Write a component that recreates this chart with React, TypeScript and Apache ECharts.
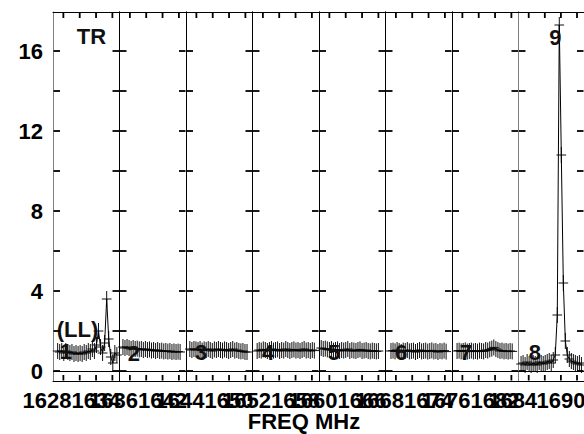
import { useEffect, useRef } from "react";
import * as echarts from "echarts";

// ---- data ----
const panelStart = [1628.73, 1636.73, 1644.73, 1652.73, 1660.73, 1668.73, 1676.73, 1684.73];
const panelSpan = 8.14;
const chanStart = [1629.3, 1637.15, 1645.2, 1653.3, 1661.0, 1669.4, 1677.35, 1685.05];
const chanStep = 0.25;

const spec1 = [1.0, 0.95, 1.0, 0.9, 1.0, 0.95, 0.9, 0.95, 0.85, 0.9, 0.85, 0.9, 0.85, 0.95, 0.9, 1.0, 0.95, 1.1, 1.0, 1.3, 2.0, 1.2, 0.9, 1.4, 3.6, 1.6, 0.7, 0.4, 0.9, 0.8];
const spec2 = [1.2, 1.15, 1.2, 1.15, 1.1, 1.15, 1.1, 1.12, 1.08, 1.1, 1.05, 1.1, 1.05, 1.08, 1.02, 1.05, 1.0, 1.05, 1.0, 1.02, 0.98, 1.0, 0.97, 1.0, 0.95, 0.98, 0.95, 0.97, 0.95];
const spec3 = [1.1, 1.05, 1.1, 1.08, 1.05, 1.1, 1.02, 1.08, 1.05, 1.1, 1.05, 1.0, 1.08, 1.05, 1.1, 1.05, 1.02, 1.08, 1.05, 1.0, 1.05, 1.1, 1.02, 1.05, 1.0, 0.98, 1.0, 0.95, 0.95];
const spec4 = [1.0, 1.05, 1.02, 1.08, 1.05, 1.0, 1.05, 1.1, 1.02, 1.05, 1.08, 1.0, 1.05, 1.02, 1.1, 1.05, 1.0, 1.05, 1.08, 1.02, 1.05, 1.0, 1.05, 1.1, 1.02, 1.05, 1.0, 1.05, 1.02];
const spec5 = [1.15, 1.1, 1.12, 1.08, 1.05, 1.1, 1.02, 1.05, 1.08, 1.0, 1.05, 1.02, 1.05, 1.1, 1.0, 1.05, 1.02, 1.0, 1.05, 1.08, 1.0, 1.02, 1.05, 1.0, 0.98, 1.02, 1.0, 0.98, 1.0];
const spec6 = [1.0, 1.02, 0.98, 1.05, 1.0, 0.95, 1.02, 1.0, 1.05, 0.98, 1.0, 1.02, 0.95, 1.0, 1.05, 0.98, 1.0, 1.02, 0.97, 1.0, 1.03, 0.98, 1.0, 0.95, 1.0, 0.98, 1.02, 0.97];
const spec7 = [1.0, 1.02, 0.98, 1.0, 1.03, 0.97, 1.0, 1.02, 0.98, 1.0, 0.97, 1.02, 1.0, 0.98, 1.05, 1.02, 1.08, 1.12, 1.18, 1.1, 1.05, 1.0, 1.02, 0.98, 1.0, 0.97, 1.0, 0.98];
const spec8 = [0.35, 0.4, 0.3, 0.45, 0.35, 0.3, 0.4, 0.35, 0.3, 0.45, 0.4, 0.35, 0.4, 0.45, 0.5, 0.4, 0.55, 0.8, 2.8, 17.3, 10.8, 4.4, 1.5, 0.8, 0.6, 0.5, 0.45, 0.4, 0.35, 0.4, 0.3];
const spectra = [spec1, spec2, spec3, spec4, spec5, spec6, spec7, spec8];

const tickFreqs = [
  [1630, 1632, 1634, 1636],
  [1638, 1640, 1642, 1644],
  [1646, 1648, 1650, 1652],
  [1654, 1656, 1658, 1660],
  [1662, 1664, 1666, 1668],
  [1670, 1672, 1674, 1676],
  [1678, 1680, 1682, 1684],
  [1686, 1688, 1690, 1692],
];
const labelFreqs = [
  [1628, 1634],
  [1636, 1642],
  [1644, 1650],
  [1652, 1658],
  [1660, 1666],
  [1668, 1674],
  [1676, 1682],
  [1684, 1690],
];
const yTicks = [0, 2, 4, 6, 8, 10, 12, 14, 16];
const yLabels = [0, 4, 8, 12, 16];
const Y_MIN = -0.5;
const Y_MAX = 17.95;

// annotations
const annotPanel = [0, 1, 2, 3, 4, 5, 6, 7, 7, 0, 0];
const annotFreq = [1630.32, 1638.5, 1646.57, 1654.63, 1662.57, 1670.63, 1678.44, 1686.75, 1689.32, 1633.44, 1631.73];
const annotValue = [1.0, 0.9, 0.95, 0.95, 0.95, 0.95, 0.95, 0.95, 16.7, 16.73, 2.1];
const annotText = ["1", "2", "3", "4", "5", "6", "7", "8", "9", "TR", "(LL)"];

const ERR = 0.4;
const HW = 0.6;
const FONT = '"Liberation Sans", Arial, Helvetica, sans-serif';
const GRID_LEFT = 53;
const PANEL_W = 66.5;
const TICK_W = 1.8;

export default function App() {
  const ref = useRef<HTMLDivElement>(null);
  useEffect(() => {
    if (!ref.current) return;
    const chart = echarts.init(ref.current, undefined, { renderer: "svg" });
    const grids: any[] = [];
    const xAxes: any[] = [];
    const yAxes: any[] = [];
    const series: any[] = [];
    const seg = (xa: number, ya: number, xb: number, yb: number, c: string, w = 1) => ({
      type: "line",
      shape: { x1: xa, y1: ya, x2: xb, y2: yb },
      style: { stroke: c, lineWidth: w },
    });
    for (let k = 0; k < 8; k++) {
      grids.push({ left: GRID_LEFT + PANEL_W * k, top: 12, width: PANEL_W, height: 369, containLabel: false });
      const xCommon = (pos: string) => ({
        gridIndex: k,
        type: "value",
        min: panelStart[k],
        max: panelStart[k] + panelSpan,
        position: pos,
        axisLine: { show: true, onZero: false, lineStyle: { color: "#000", width: 1 } },
        axisTick: { show: false },
        axisLabel: { show: false },
        splitLine: { show: false },
      });
      xAxes.push(xCommon("bottom"));
      xAxes.push(xCommon("top"));
      const leftGray = k === 0 || k === 7;
      yAxes.push({
        gridIndex: k,
        type: "value",
        min: Y_MIN,
        max: Y_MAX,
        position: "left",
        axisLine: { show: true, onZero: false, lineStyle: { color: leftGray ? "#808080" : "#000", width: 1 } },
        axisTick: { show: false },
        axisLabel: k === 0
          ? { show: true, customValues: yLabels, margin: 10, fontSize: 22, fontWeight: "bold", color: "#000", fontFamily: FONT }
          : { show: false },
        splitLine: { show: false },
      });
      yAxes.push({
        gridIndex: k,
        type: "value",
        min: Y_MIN,
        max: Y_MAX,
        position: "right",
        axisLine: { show: true, onZero: false, lineStyle: { color: k === 6 ? "#808080" : "#000", width: 1 } },
        axisTick: { show: false },
        axisLabel: { show: false },
        splitLine: { show: false },
      });
      const xa = panelStart[k];
      const xb = panelStart[k] + panelSpan;
      const pts = spectra[k].map((v, i) => [chanStart[k] + i * chanStep, v]);
      series.push({
        type: "custom",
        xAxisIndex: 2 * k,
        yAxisIndex: 2 * k,
        silent: true,
        clip: false,
        data: pts,
        z: 2,
        renderItem: (_p: any, api: any) => {
          const f = api.value(0);
          const v = api.value(1);
          const a = api.coord([f, v - ERR]);
          const b = api.coord([f, v + ERR]);
          const c = api.coord([f - HW, v]);
          const d = api.coord([f + HW, v]);
          return {
            type: "group",
            children: [seg(a[0], a[1], b[0], b[1], "#111"), seg(c[0], c[1], d[0], d[1], "#111")],
          };
        },
      });
      series.push({
        type: "line",
        xAxisIndex: 2 * k,
        yAxisIndex: 2 * k,
        data: pts,
        showSymbol: false,
        symbol: "none",
        silent: true,
        z: 3,
        lineStyle: { color: "#000", width: 1 },
        markLine: {
          silent: true,
          symbol: "none",
          label: { show: false },
          lineStyle: { color: "#000", width: 1, type: "solid" },
          data: [{ yAxis: 0 }],
        },
      });
      // frame ticks (inside), placed with the panel's own scales
      const xTickPts = tickFreqs[k].map((f) => [f, 0]);
      series.push({
        type: "custom",
        xAxisIndex: 2 * k,
        yAxisIndex: 2 * k,
        silent: true,
        clip: false,
        z: 10,
        data: xTickPts,
        renderItem: (_p: any, api: any) => {
          const f = api.value(0);
          const b = api.coord([f, Y_MIN]);
          const t = api.coord([f, Y_MAX]);
          return {
            type: "group",
            children: [
              seg(b[0], b[1] - 0.5, b[0], b[1] - 6, "#000", TICK_W),
              seg(t[0], t[1] + 0.5, t[0], t[1] + 6, "#000", TICK_W),
            ],
          };
        },
      });
      const yTickPts = yTicks.map((v) => [xa + 1, v]);
      series.push({
        type: "custom",
        xAxisIndex: 2 * k,
        yAxisIndex: 2 * k,
        silent: true,
        clip: false,
        z: 10,
        data: yTickPts,
        renderItem: (_p: any, api: any) => {
          const v = api.value(1);
          const l = api.coord([xa, v]);
          const r = api.coord([xb, v]);
          return {
            type: "group",
            children: [
              seg(l[0] + 0.5, l[1], l[0] + 7, l[1], "#000", TICK_W),
              seg(r[0] - 0.5, r[1], r[0] - 7, r[1], "#000", TICK_W),
            ],
          };
        },
      });
      const labs = labelFreqs[k];
      series.push({
        type: "custom",
        xAxisIndex: 2 * k,
        yAxisIndex: 2 * k,
        silent: true,
        clip: false,
        z: 5,
        data: labs.map((f) => [f, Y_MIN]),
        renderItem: (p: any, api: any) => {
          const pt = api.coord([api.value(0), api.value(1)]);
          return {
            type: "text",
            x: pt[0],
            y: pt[1] + 19,
            style: { text: String(labs[p.dataIndex]), font: `bold 22px ${FONT}`, fill: "#000", align: "center", verticalAlign: "middle" },
          };
        },
      });
      const idx = annotPanel.map((pn, i) => (pn === k ? i : -1)).filter((i) => i >= 0);
      if (idx.length) {
        series.push({
          type: "custom",
          xAxisIndex: 2 * k,
          yAxisIndex: 2 * k,
          silent: true,
          clip: false,
          z: 6,
          data: idx.map((i) => [annotFreq[i], annotValue[i]]),
          renderItem: (p: any, api: any) => {
            const pt = api.coord([api.value(0), api.value(1)]);
            return {
              type: "text",
              x: pt[0],
              y: pt[1],
              style: { text: annotText[idx[p.dataIndex]], font: `bold 22px ${FONT}`, fill: "#111", align: "center", verticalAlign: "middle" },
            };
          },
        });
      }
    }
    chart.setOption({
      animation: false,
      backgroundColor: "#fff",
      grid: grids,
      xAxis: xAxes,
      yAxis: yAxes,
      series,
      graphic: [
        {
          type: "text",
          x: 304,
          y: 421,
          style: { text: "FREQ MHz", font: `bold 22px ${FONT}`, fill: "#000", align: "center", verticalAlign: "middle" },
        },
      ],
    });
    return () => chart.dispose();
  }, []);
  return <div ref={ref} style={{ position: "fixed", left: 0, top: 0, width: 584, height: 434, background: "#fff" }} />;
}
